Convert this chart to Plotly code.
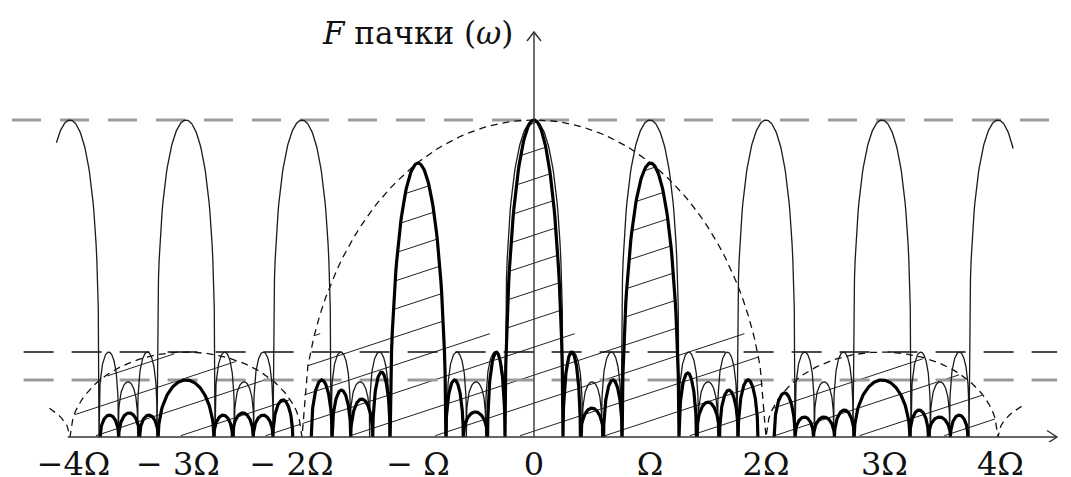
import numpy as np
import plotly.graph_objects as go

# ---------------- data (frequency in units of Ω, amplitude relative to the main peak) -------------
tick_positions = [-3.97, -3.07, -2.09, -1.0, 0.0, 1.0, 2.0, 3.02, 4.02]
tick_labels = ["−4Ω", "− 3Ω", "− 2Ω", "− Ω", "0", "Ω", "2Ω", "3Ω", "4Ω"]

# thin curve: burst spectrum without the single-pulse envelope
thin_main_harmonics = [-4, -3, -2, 0, 1, 2, 3, 4]
thin_main_height = 1.0
thin_main_halfwidth = 0.25
thin_side_edges = [0.25, 0.4167, 0.5833, 0.75]
thin_side_heights = [0.268, 0.174, 0.268]
thin_extent = [-4.12, 4.13]

# thick curve: burst spectrum (lobe start, lobe end, lobe height)
thick_left = [-3.74, -3.58, -3.40, -3.24, -2.76, -2.60, -2.42, -2.25,
              -1.92, -1.74, -1.58, -1.39, -1.24, -0.76, -0.61, -0.40,
              -0.25, 0.25, 0.40, 0.60, 0.76, 1.25, 1.40, 1.60, 1.76,
              2.07, 2.25, 2.41, 2.59, 2.76, 3.24, 3.40, 3.59]
thick_right = [-3.58, -3.40, -3.24, -2.76, -2.60, -2.42, -2.25, -2.08,
               -1.74, -1.58, -1.39, -1.24, -0.76, -0.61, -0.40, -0.25,
               0.25, 0.40, 0.60, 0.76, 1.25, 1.40, 1.60, 1.76, 1.93,
               2.25, 2.41, 2.59, 2.76, 3.24, 3.40, 3.59, 3.74]
thick_height = [0.069, 0.076, 0.069, 0.180, 0.069, 0.076, 0.069, 0.117,
                0.180, 0.148, 0.120, 0.205, 0.864, 0.180, 0.079, 0.268,
                1.000, 0.268, 0.091, 0.180, 0.864, 0.202, 0.110, 0.148, 0.180,
                0.139, 0.063, 0.063, 0.085, 0.180, 0.085, 0.063, 0.069]

# dashed envelope: single-pulse spectrum
env_left = [-6, -4, -2, 2, 4]
env_right = [-4, -2, 2, 4, 6]
env_height = [0.16, 0.268, 1.0, 0.268, 0.16]
env_extent = [-4.19, 4.22]

# horizontal dashed reference levels
level_values = [1.0, 0.268, 0.18]
level_start = [-4.50, -4.40, -4.40]
level_end = [4.55, 4.51, 4.51]

hatch_cap = 0.33

# ---------------- geometry helpers ----------------
PX_X = 116.0   # pixels per Ω
PX_Y = 317.0   # pixels per unit amplitude
X0, Y0 = 534.0, 437.0   # page pixel of the origin
PAGE_OFF = 8.0          # default page margin around the plot div
W, H = 1071, 477
MB = 43                 # bottom margin (room for tick labels)


def lobe(x0, x1, h, p, n=80):
    t = np.linspace(-1, 1, n)
    xs = x0 + (t + 1) / 2 * (x1 - x0)
    ys = h * np.clip(1 - t ** 2, 0, None) ** p
    return xs, ys


def build_curve(lobes, p, extent=None):
    lobes = sorted(lobes)
    X, Y = [], []
    prev_end = None
    for (a, b, h) in lobes:
        xs, ys = lobe(a, b, h, p)
        if extent is not None:
            m = (xs >= extent[0]) & (xs <= extent[1])
            xs, ys = xs[m], ys[m]
            if len(xs) == 0:
                continue
        if prev_end is not None and abs(a - prev_end) > 1e-6:
            X.append(None); Y.append(None)
        X.extend(xs.tolist()); Y.extend(ys.tolist())
        prev_end = b
    return X, Y


def eval_lobes(lobes, p, grid):
    out = np.zeros_like(grid)
    for (a, b, h) in lobes:
        t = (grid - (a + b) / 2) / ((b - a) / 2)
        m = np.abs(t) <= 1
        out[m] = np.maximum(out[m], h * (1 - t[m] ** 2) ** p)
    return out


thin_lobes = [(k - thin_main_halfwidth, k + thin_main_halfwidth, thin_main_height)
              for k in thin_main_harmonics]
for k in range(-4, 4):
    for i in range(3):
        thin_lobes.append((k + thin_side_edges[i], k + thin_side_edges[i + 1], thin_side_heights[i]))
thick_lobes = list(zip(thick_left, thick_right, thick_height))
env_lobes = list(zip(env_left, env_right, env_height))

P_THIN, P_THICK, P_ENV = 0.3, 0.5, 0.5

thin_x, thin_y = build_curve(thin_lobes, P_THIN, thin_extent)
thick_x, thick_y = build_curve(thick_lobes, P_THICK)
env_x, env_y = build_curve(env_lobes, P_ENV, env_extent)

# hatch lines clipped to the shaded region
grid = np.linspace(-4, 4, 8001)
top = np.maximum(eval_lobes(thick_lobes, P_THICK, grid),
                 np.minimum(eval_lobes(env_lobes, P_ENV, grid), hatch_cap))
slope = 0.33 * PX_X / PX_Y
spacing = 28.0 / PX_Y
hx, hy = [], []
b = -slope * 4 - 1.0
while b < 1.0 + slope * 4:
    hl = b + slope * grid
    m = (hl > 0.004) & (hl < top - 0.004)
    if m.any():
        idx = np.flatnonzero(m)
        splits = np.flatnonzero(np.diff(idx) > 1) + 1
        for seg in np.split(idx, splits):
            if len(seg) < 3:
                continue
            hx.extend([grid[seg[0]], grid[seg[-1]], None])
            hy.extend([hl[seg[0]], hl[seg[-1]], None])
    b += spacing

fig = go.Figure()

fig.add_trace(go.Scatter(x=hx, y=hy, mode="lines", line=dict(color="#222222", width=1),
                         hoverinfo="skip"))

# horizontal levels
level_styles = [dict(color="#9b9b9b", width=3, dash="29px,19px"),
                dict(color="#111111", width=1.6, dash="30px,18px"),
                dict(color="#9b9b9b", width=3, dash="30px,18px")]
for v, s, e, st in zip(level_values, level_start, level_end, level_styles):
    fig.add_trace(go.Scatter(x=[s, e], y=[v, v], mode="lines", line=st, hoverinfo="skip"))

fig.add_trace(go.Scatter(x=env_x, y=env_y, mode="lines",
                         line=dict(color="#111111", width=1.3, dash="7px,5px"), hoverinfo="skip"))
fig.add_trace(go.Scatter(x=thin_x, y=thin_y, mode="lines",
                         line=dict(color="#1a1a1a", width=1.3), hoverinfo="skip"))
fig.add_trace(go.Scatter(x=thick_x, y=thick_y, mode="lines",
                         line=dict(color="#000000", width=3.2), hoverinfo="skip"))

# axes with arrows
x_end = (1057 - X0) / PX_X
y_end = (Y0 - 32) / PX_Y
axis_style = dict(color="#333333", width=1.4)
fig.add_trace(go.Scatter(x=[-4.02, x_end], y=[0, 0], mode="lines", line=axis_style, hoverinfo="skip"))
fig.add_trace(go.Scatter(x=[x_end - 10 / PX_X, x_end, x_end - 10 / PX_X],
                         y=[6.5 / PX_Y, 0, -6.5 / PX_Y], mode="lines", line=axis_style, hoverinfo="skip"))
fig.add_trace(go.Scatter(x=[0, 0], y=[0, y_end], mode="lines", line=axis_style, hoverinfo="skip"))
fig.add_trace(go.Scatter(x=[-7 / PX_X, 0, 7 / PX_X],
                         y=[y_end - 9 / PX_Y, y_end, y_end - 9 / PX_Y], mode="lines",
                         line=axis_style, hoverinfo="skip"))

fig.add_annotation(x=(417 - X0) / PX_X, y=(Y0 - 33) / PX_Y, xref="x", yref="y",
                   text="<i>F</i> пачки (<i>ω</i>)", showarrow=False,
                   font=dict(family="DejaVu Serif", size=31, color="#111111"))
fig.add_annotation(x=(1055 - X0) / PX_X, y=(Y0 - 464) / PX_Y, xref="x", yref="y",
                   text="<i>ω</i>", showarrow=False,
                   font=dict(family="DejaVu Serif", size=32, color="#111111"))

# axis ranges so that the page pixel (X0, Y0) is the origin, accounting for the page margin
x_lo = (PAGE_OFF - X0) / PX_X
x_hi = (PAGE_OFF + W - X0) / PX_X
y_hi = (Y0 - PAGE_OFF) / PX_Y
y_lo = (Y0 - (PAGE_OFF + H - MB)) / PX_Y

fig.update_layout(
    width=W, height=H,
    margin=dict(l=0, r=0, t=0, b=MB, autoexpand=False),
    paper_bgcolor="white", plot_bgcolor="white",
    showlegend=False,
    xaxis=dict(range=[x_lo, x_hi], showgrid=False, zeroline=False, automargin=False,
               showline=False, ticks="", tickvals=tick_positions, ticktext=tick_labels,
               tickfont=dict(family="DejaVu Serif", size=32, color="#111111")),
    yaxis=dict(range=[y_lo, y_hi], visible=False, automargin=False),
)

fig.write_html("out.html")
